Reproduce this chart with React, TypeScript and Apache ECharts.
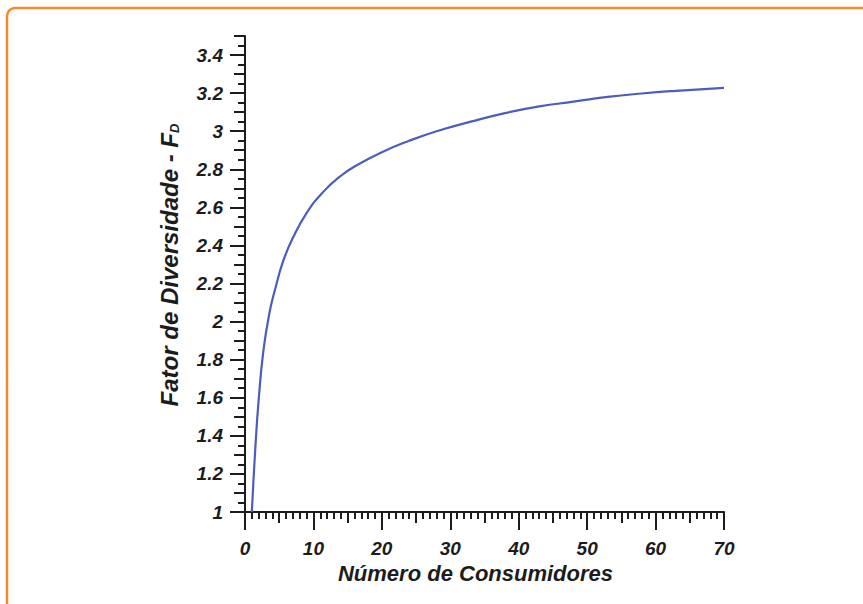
import React, { useEffect, useRef } from "react";
import * as echarts from "echarts";

const consumers = [1, 1.5, 2, 2.7, 3.6, 4.4, 5.6, 7, 9, 11.4, 14, 16, 20, 24, 28, 33, 38, 43, 48, 53, 58, 63, 70];
const diversityFactor = [1.0, 1.33, 1.59, 1.85, 2.05, 2.17, 2.32, 2.44, 2.57, 2.68, 2.765, 2.815, 2.89, 2.95, 3.0, 3.05, 3.095, 3.13, 3.155, 3.18, 3.198, 3.212, 3.228];
const yTickLabels = [1, 1.2, 1.4, 1.6, 1.8, 2, 2.2, 2.4, 2.6, 2.8, 3, 3.2, 3.4];
const xTickLabels = [0, 10, 20, 30, 40, 50, 60, 70];

const FONT = "'Liberation Sans', Arial, sans-serif";
const INK = "#1c1c1c";

export default function App() {
  const ref = useRef<HTMLDivElement>(null);
  useEffect(() => {
    if (!ref.current) return;
    const chart = echarts.init(ref.current, null, { renderer: "svg" });
    const labelStyle = {
      fontFamily: FONT,
      fontWeight: "bold" as const,
      fontStyle: "italic" as const,
      fontSize: 19,
      color: INK,
    };
    const hiddenX = (interval: number, len: number) => ({
      type: "value",
      min: 0,
      max: 70,
      interval,
      position: "bottom",
      offset: 0,
      axisLine: { show: false },
      axisLabel: { show: false },
      splitLine: { show: false },
      axisTick: { show: true, length: len, lineStyle: { color: INK, width: 2 } },
    });
    const hiddenY = (interval: number, len: number) => ({
      type: "value",
      min: 1,
      max: 3.5,
      interval,
      position: "left",
      offset: 0,
      axisLine: { show: false },
      axisLabel: { show: false },
      splitLine: { show: false },
      axisTick: { show: true, length: len, lineStyle: { color: INK, width: 2 } },
    });
    chart.setOption({
      animation: false,
      backgroundColor: "#ffffff",
      graphic: [
        {
          type: "rect",
          shape: { x: 7, y: 8, width: 900, height: 640, r: 8 },
          style: { fill: "none", stroke: "#f28a2c", lineWidth: 2.5 },
          silent: true,
        },
      ],
      grid: { left: 245, top: 36, right: 139, bottom: 92, containLabel: false },
      xAxis: [
        {
          type: "value",
          min: 0,
          max: 70,
          position: "bottom",
          offset: 0,
          name: "Número de Consumidores",
          nameLocation: "middle",
          nameGap: 46,
          nameTextStyle: { ...labelStyle, fontSize: 22, padding: [0, 18, 0, 0] },
          axisLine: { show: true, lineStyle: { color: INK, width: 2 } },
          axisTick: { show: true, length: 18, customValues: xTickLabels, lineStyle: { color: INK, width: 2 } },
          axisLabel: { ...labelStyle, margin: 27, customValues: xTickLabels },
          splitLine: { show: false },
        },
        hiddenX(5, 11),
        hiddenX(1, 7),
      ],
      yAxis: [
        {
          type: "value",
          min: 1,
          max: 3.5,
          position: "left",
          offset: 0,
          name: "Fator de Diversidade - {s|F}{sub|D}",
          nameLocation: "middle",
          nameGap: 64,
          nameTextStyle: {
            ...labelStyle,
            fontSize: 24,
            padding: [0, 0, 0, 18],
            rich: {
              s: { ...labelStyle, fontSize: 24 },
              sub: { ...labelStyle, fontSize: 13, verticalAlign: "bottom", padding: [11, 0, 0, 0] },
            },
          },
          axisLine: { show: true, lineStyle: { color: INK, width: 2 } },
          axisTick: { show: true, length: 15, customValues: yTickLabels, lineStyle: { color: INK, width: 2 } },
          axisLabel: { ...labelStyle, margin: 22, customValues: yTickLabels },
          splitLine: { show: false },
        },
        hiddenY(0.1, 11),
        hiddenY(0.05, 7),
      ],
      series: [
        {
          type: "line",
          xAxisIndex: 0,
          yAxisIndex: 0,
          data: consumers.map((n, i) => [n, diversityFactor[i]]),
          smooth: 0.5,
          showSymbol: false,
          symbol: "none",
          lineStyle: { color: "#4d5dbc", width: 2.2 },
        },
      ],
    });
    return () => chart.dispose();
  }, []);
  return (
    <div
      ref={ref}
      style={{ position: "fixed", left: 0, top: 0, width: 863, height: 604, background: "#fff" }}
    />
  );
}
